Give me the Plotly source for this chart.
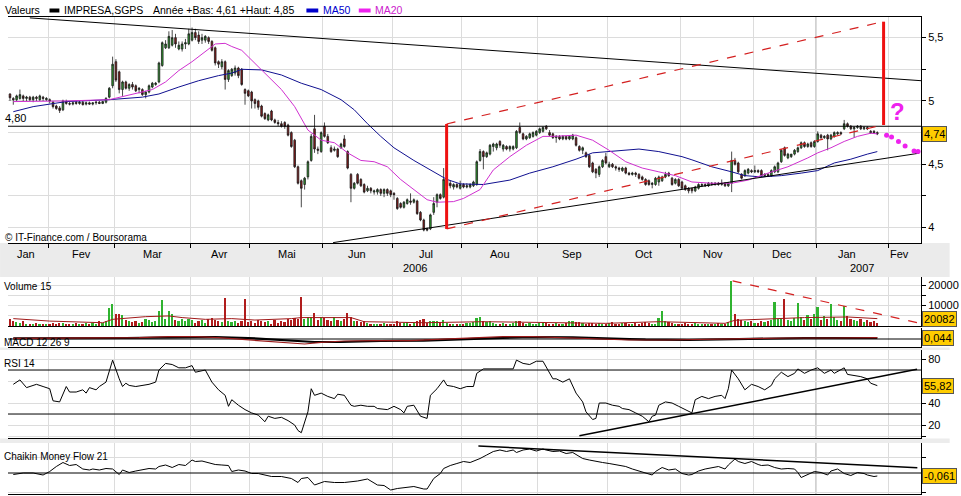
import plotly.graph_objects as go

# ---------------- DATA ----------------
opens = [
 5.055,5.02,5.01,5.02,5.04,5.02,5.03,5.01,5.03,5.01,
 5.03,5.01,5.01,4.99,4.96,4.945,4.93,4.995,4.98,4.975,
 4.99,4.98,4.99,4.975,4.985,4.975,4.985,4.99,4.98,4.99,
 5.03,5.12,5.31,5.23,5.09,5.15,5.10,5.13,5.12,5.09,
 5.09,5.05,5.07,5.11,5.13,5.15,5.28,5.42,5.42,5.44,
 5.50,5.41,5.41,5.45,5.45,5.48,5.54,5.52,5.48,5.48,
 5.50,5.47,5.42,5.31,5.27,5.31,5.17,5.20,5.22,5.26,
 5.25,5.09,5.08,5.07,5.01,5.00,4.96,4.90,4.85,4.92,
 4.85,4.83,4.82,4.83,4.81,4.75,4.69,4.48,4.37,4.34,
 4.40,4.53,4.78,4.62,4.60,4.80,4.72,4.63,4.61,4.62,
 4.63,4.70,4.60,4.42,4.31,4.42,4.38,4.34,4.29,4.31,
 4.28,4.28,4.30,4.27,4.30,4.29,4.27,4.23,4.19,4.16,
 4.19,4.21,4.20,4.21,4.12,4.06,3.99,3.99,4.12,4.20,
 4.26,4.24,4.33,4.35,4.32,4.34,4.31,4.34,4.32,4.32,
 4.33,4.34,4.53,4.60,4.56,4.58,4.64,4.63,4.68,4.62,
 4.64,4.62,4.62,4.63,4.79,4.74,4.70,4.71,4.72,4.73,
 4.75,4.76,4.80,4.75,4.74,4.71,4.72,4.70,4.72,4.70,
 4.70,4.71,4.64,4.61,4.59,4.57,4.51,4.46,4.42,4.48,
 4.56,4.48,4.50,4.48,4.47,4.45,4.47,4.43,4.42,4.43,
 4.42,4.40,4.38,4.37,4.34,4.34,4.36,4.37,4.40,4.43,
 4.39,4.35,4.38,4.36,4.33,4.31,4.31,4.29,4.31,4.33,
 4.34,4.33,4.35,4.34,4.35,4.34,4.35,4.33,4.35,4.53,
 4.51,4.42,4.41,4.43,4.45,4.44,4.45,4.45,4.41,4.42,
 4.41,4.44,4.44,4.52,4.63,4.55,4.56,4.58,4.60,4.63,
 4.67,4.64,4.67,4.64,4.68,4.73,4.71,4.73,4.70,4.72,
 4.74,4.75,4.78,4.82,4.80,4.78,4.79,4.80,4.78,4.79,
 4.76,4.76,4.75]
highs = [
 5.06,5.03,5.05,5.09,5.05,5.04,5.04,5.04,5.04,5.05,
 5.04,5.03,5.02,5.00,4.97,4.96,5.01,5.01,4.995,4.995,
 5.00,5.00,5.00,4.995,4.995,4.99,5.00,5.00,5.00,5.03,
 5.11,5.35,5.33,5.24,5.16,5.16,5.14,5.15,5.13,5.11,
 5.10,5.08,5.13,5.15,5.15,5.31,5.47,5.48,5.55,5.56,
 5.53,5.47,5.47,5.49,5.57,5.58,5.57,5.55,5.53,5.52,
 5.51,5.48,5.43,5.32,5.33,5.32,5.25,5.26,5.28,5.27,
 5.26,5.10,5.09,5.08,5.02,5.01,4.97,4.91,4.90,4.93,
 4.86,4.85,4.84,4.84,4.82,4.76,4.70,4.49,4.38,4.40,
 4.53,4.74,4.89,4.64,4.76,4.83,4.74,4.65,4.64,4.63,
 4.67,4.73,4.61,4.43,4.36,4.43,4.39,4.35,4.33,4.32,
 4.30,4.31,4.31,4.31,4.31,4.30,4.28,4.24,4.20,4.21,
 4.23,4.27,4.23,4.22,4.13,4.07,4.00,4.11,4.24,4.27,
 4.27,4.47,4.38,4.37,4.35,4.35,4.37,4.35,4.35,4.35,
 4.37,4.53,4.62,4.61,4.60,4.66,4.67,4.67,4.69,4.66,
 4.65,4.65,4.65,4.77,4.83,4.75,4.73,4.75,4.76,4.77,
 4.79,4.80,4.81,4.77,4.75,4.73,4.73,4.73,4.72,4.73,
 4.74,4.72,4.65,4.64,4.60,4.58,4.52,4.47,4.49,4.54,
 4.59,4.52,4.51,4.49,4.48,4.48,4.48,4.44,4.44,4.44,
 4.43,4.41,4.39,4.38,4.36,4.40,4.41,4.41,4.44,4.44,
 4.40,4.39,4.39,4.37,4.34,4.32,4.31,4.33,4.35,4.35,
 4.35,4.36,4.36,4.36,4.36,4.38,4.36,4.36,4.60,4.55,
 4.52,4.43,4.46,4.47,4.46,4.49,4.46,4.46,4.43,4.43,
 4.46,4.49,4.52,4.62,4.64,4.59,4.58,4.62,4.64,4.68,
 4.68,4.67,4.68,4.69,4.76,4.74,4.73,4.74,4.74,4.76,
 4.76,4.76,4.85,4.83,4.81,4.80,4.81,4.81,4.80,4.80,
 4.77,4.77,4.76]
lows = [
 5.00,4.97,5.00,5.01,5.00,5.00,5.00,4.99,5.00,5.00,
 5.00,5.00,4.98,4.94,4.93,4.905,4.92,4.97,4.965,4.965,
 4.97,4.97,4.965,4.965,4.97,4.965,4.97,4.975,4.975,4.98,
 5.02,5.10,5.15,5.06,5.04,5.09,5.08,5.09,5.07,5.06,
 5.04,5.02,5.06,5.10,5.12,5.14,5.27,5.41,5.41,5.43,
 5.42,5.40,5.39,5.41,5.44,5.47,5.48,5.45,5.45,5.46,
 5.45,5.39,5.28,5.26,5.25,5.09,5.15,5.19,5.20,5.18,
 5.12,4.97,5.03,4.94,4.94,4.93,4.87,4.85,4.84,4.84,
 4.82,4.80,4.79,4.78,4.72,4.63,4.47,4.34,4.16,4.30,
 4.38,4.52,4.59,4.58,4.59,4.71,4.66,4.59,4.60,4.55,
 4.62,4.63,4.46,4.20,4.30,4.34,4.32,4.27,4.28,4.27,
 4.26,4.26,4.25,4.24,4.25,4.24,4.22,4.14,4.15,4.15,
 4.18,4.18,4.19,4.10,4.05,3.97,3.97,3.98,4.10,4.16,
 4.22,4.23,4.23,4.31,4.30,4.31,4.30,4.31,4.31,4.31,
 4.32,4.33,4.52,4.46,4.55,4.57,4.60,4.61,4.63,4.60,
 4.61,4.60,4.61,4.62,4.74,4.69,4.69,4.70,4.71,4.72,
 4.74,4.75,4.77,4.72,4.70,4.67,4.69,4.69,4.69,4.69,
 4.69,4.64,4.60,4.58,4.55,4.47,4.43,4.39,4.40,4.47,
 4.50,4.47,4.47,4.45,4.44,4.44,4.42,4.41,4.41,4.40,
 4.38,4.37,4.33,4.33,4.31,4.33,4.33,4.36,4.39,4.40,
 4.33,4.34,4.32,4.30,4.29,4.27,4.27,4.28,4.30,4.32,
 4.32,4.32,4.33,4.33,4.33,4.33,4.32,4.32,4.28,4.49,
 4.43,4.38,4.40,4.42,4.43,4.43,4.43,4.40,4.40,4.40,
 4.40,4.43,4.43,4.51,4.56,4.54,4.55,4.57,4.59,4.62,
 4.63,4.63,4.63,4.63,4.67,4.70,4.70,4.61,4.69,4.71,
 4.73,4.73,4.77,4.79,4.77,4.71,4.78,4.77,4.77,4.77,
 4.74,4.74,4.73]
closes = [
 5.025,5.01,5.04,5.05,5.02,5.03,5.01,5.03,5.02,5.04,
 5.02,5.02,5.00,4.955,4.94,4.925,5.00,4.98,4.975,4.985,
 4.98,4.99,4.97,4.985,4.975,4.985,4.99,4.98,4.995,5.02,
 5.10,5.29,5.165,5.09,5.15,5.10,5.13,5.11,5.08,5.10,
 5.05,5.07,5.12,5.14,5.14,5.30,5.46,5.45,5.51,5.50,
 5.45,5.44,5.45,5.46,5.53,5.54,5.50,5.47,5.50,5.51,
 5.47,5.40,5.30,5.29,5.31,5.17,5.24,5.25,5.26,5.20,
 5.13,5.06,5.04,5.00,4.98,4.95,4.88,4.86,4.89,4.85,
 4.83,4.82,4.80,4.80,4.73,4.64,4.48,4.35,4.31,4.39,
 4.52,4.72,4.62,4.61,4.75,4.72,4.67,4.60,4.62,4.56,
 4.66,4.64,4.47,4.31,4.35,4.35,4.33,4.28,4.31,4.29,
 4.29,4.30,4.27,4.30,4.27,4.26,4.26,4.15,4.16,4.20,
 4.22,4.20,4.22,4.11,4.06,3.98,3.98,4.10,4.19,4.26,
 4.23,4.38,4.37,4.33,4.34,4.32,4.34,4.32,4.33,4.34,
 4.36,4.52,4.60,4.56,4.59,4.65,4.66,4.66,4.65,4.65,
 4.62,4.64,4.64,4.76,4.75,4.70,4.72,4.74,4.75,4.76,
 4.78,4.79,4.78,4.73,4.71,4.72,4.70,4.72,4.70,4.72,
 4.73,4.65,4.61,4.63,4.56,4.48,4.44,4.43,4.48,4.53,
 4.51,4.50,4.48,4.47,4.46,4.47,4.43,4.42,4.43,4.42,
 4.39,4.38,4.34,4.34,4.35,4.39,4.40,4.40,4.42,4.41,
 4.34,4.38,4.33,4.31,4.30,4.29,4.29,4.32,4.34,4.34,
 4.33,4.35,4.34,4.35,4.34,4.35,4.33,4.35,4.53,4.50,
 4.44,4.39,4.45,4.46,4.44,4.45,4.44,4.41,4.42,4.41,
 4.45,4.48,4.51,4.61,4.57,4.58,4.58,4.61,4.63,4.67,
 4.64,4.66,4.64,4.68,4.74,4.71,4.72,4.70,4.73,4.75,
 4.75,4.74,4.82,4.80,4.78,4.79,4.80,4.78,4.79,4.78,
 4.75,4.75,4.74]
volumes = [
 3200,2600,1800,1500,2200,1200,1000,900,1500,800,
 1200,1000,700,1600,1100,1300,1400,900,1200,1100,
 1500,800,1000,1300,1200,1500,1100,2400,1300,2200,
 8900,10900,6000,6000,5500,3000,2500,1800,2600,1500,
 2000,3500,2800,1900,2200,7300,12500,3500,7300,5700,
 3000,2500,3500,2500,3200,2800,1600,2200,2800,1500,
 3500,4000,3000,2600,2000,13500,2500,1800,2600,1500,
 2200,13000,2000,2500,1500,2800,2200,1800,2500,1200,
 3000,1500,2200,2000,3500,2800,4000,3200,14100,3500,
 4200,4500,6500,3000,4400,4000,3000,2600,4400,3000,
 2500,3500,6200,4500,2500,2200,2000,2600,1500,1200,
 900,1100,800,1300,1000,1200,900,2200,1500,1300,
 1800,1000,1600,2500,2800,3200,1500,2600,2500,2200,
 1800,3000,1600,1200,900,1100,800,1000,1300,1500,
 2000,4000,4200,2500,1800,2500,1500,1200,1000,1400,
 900,1100,1300,2600,2200,1500,1200,1600,1100,900,
 1300,1800,1500,1200,1000,1400,900,1100,1700,2200,
 2400,1800,2000,1500,1200,1600,1300,1000,1400,1100,
 900,1600,1800,1200,1000,1500,1300,900,1100,1400,
 1200,1600,1800,1300,1000,1200,4000,7300,2500,1800,
 1500,1200,900,1100,1400,800,1000,1300,1200,900,
 1100,800,1000,1200,1300,900,1000,2000,22000,5700,
 3500,2800,2200,1800,2500,1600,1400,2500,1800,2600,
 3000,11900,3500,4000,13000,3000,2500,4000,11400,4500,
 3000,5500,3500,6000,9400,3000,5000,3500,10600,4500,
 3000,2500,9900,5000,3500,3000,2500,3200,2000,2800,
 1800,2200,1500]

ma20_idx = [1,7,17,30,37,43,47,51,55,59,62,65,67,70,76,82,86,90,94,98,
            102,106,110,114,118,122,126,129,134,137,142,146,151,156,161,164,171,176,181,186,
            191,196,201,206,212,218,223,229,235,241,244,248,252,256,260,262]
ma20_val = [4.995,4.995,5.0,5.01,5.05,5.09,5.15,5.24,5.31,5.39,5.45,5.455,5.43,5.40,5.245,5.09,4.955,4.77,4.69,4.67,
            4.59,4.53,4.52,4.48,4.38,4.30,4.22,4.20,4.205,4.23,4.30,4.455,4.56,4.65,4.72,4.72,4.73,4.69,4.61,4.52,
            4.47,4.44,4.41,4.36,4.35,4.35,4.375,4.43,4.48,4.55,4.59,4.63,4.68,4.72,4.745,4.74]
ma50_idx = [1,7,17,30,40,45,51,57,63,67,70,76,82,88,94,100,104,108,112,116,
            122,128,132,136,143,151,157,164,171,176,183,190,196,203,206,212,218,222,227,233,
            239,244,249,254,259,262]
ma50_val = [4.915,4.955,4.995,5.01,5.03,5.055,5.11,5.16,5.20,5.22,5.25,5.245,5.205,5.14,5.09,5.01,4.93,4.82,4.72,4.63,
            4.53,4.44,4.38,4.345,4.34,4.375,4.43,4.48,4.54,4.59,4.605,4.62,4.60,4.56,4.535,4.48,4.44,4.41,4.40,4.41,
            4.43,4.45,4.51,4.54,4.58,4.60]

vma_idx = [1,12,28,31,41,48,52,59,67,74,85,88,94,103,107,125,143,162,180,196,207,216,219,233,240,253,262]
vma_val = [3600,2400,1600,3250,4550,4900,4100,3250,3600,2900,3600,4100,4100,4100,2100,1600,2100,1600,1300,2100,
           1600,1300,2800,3600,4100,4400,3600]

macd_idx = [1,15,28,39,48,56,63,70,77,85,89,94,101,110,121,129,140,149,158,167,176,187,198,213,220,235,249,262]
macd_val = [0.02,0.02,0.03,0.04,0.07,0.07,0.04,-0.01,-0.05,-0.11,-0.15,-0.10,-0.06,-0.05,-0.05,-0.01,0.04,0.07,0.07,0.04,
            -0.01,-0.03,-0.03,-0.01,0.02,0.03,0.03,0.044]
sig_idx = [1,20,35,50,62,72,82,92,100,112,125,135,145,157,170,180,192,205,218,228,240,262]
sig_val = [0.02,0.02,0.03,0.05,0.06,0.03,-0.03,-0.09,-0.09,-0.06,-0.05,-0.02,0.03,0.06,0.05,0.01,-0.02,-0.03,-0.01,0.01,0.03,0.03]

rsi_idx = [1,3,5,8,10,12,13,15,17,18,20,22,23,24,26,27,29,30,31,33,34,35,36,38,40,42,44,45,47,49,
           51,53,55,56,59,61,63,65,66,67,69,71,73,75,77,78,80,82,84,86,87,88,90,91,92,94,96,98,99,101,
           103,104,106,108,110,111,114,116,118,119,120,122,124,126,127,129,131,132,134,136,138,140,141,143,145,147,150,152,153,155,
           157,159,161,162,164,165,167,169,171,173,174,176,177,178,180,182,184,185,187,189,191,193,194,195,196,198,200,202,204,206,
           207,209,211,213,215,216,217,218,220,222,224,226,228,230,231,233,235,237,238,240,242,244,246,248,249,252,253,255,257,259,
           260,262]
rsi_val = [57,61,54,57,55,53,42,41,55,50,50,52,49,54,52,55,59,70,79,62,55,58,56,55,56,57,59,70,76,75,
           72,72,74,68,70,59,52,47,37,43,38,34,31,29,23,28,26,27,24,20,15,13,32,53,47,49,46,44,48,47,
           38,37,38,37,37,35,34,37,34,31,37,38,28,26,47,53,61,56,55,53,55,55,67,71,71,71,71,71,79,76,
           75,78,78,73,62,62,59,62,49,41,32,25,26,40,40,38,37,35,34,31,28,23,28,29,38,41,40,37,34,31,
           43,46,44,46,47,44,53,70,62,52,57,55,52,56,62,68,64,67,71,67,70,72,67,70,67,72,66,65,64,62,
           58,55.82]

cmf_idx = [1,4,7,10,12,14,16,18,20,22,24,25,27,29,31,33,34,36,38,40,42,44,45,47,49,51,53,55,56,58,
           60,62,64,66,67,69,71,73,75,77,79,82,85,87,88,90,92,95,98,101,105,108,110,111,113,115,117,120,122,125,
           126,128,130,131,133,135,137,139,141,142,144,146,148,150,152,153,155,157,159,161,162,164,166,168,170,172,173,175,177,179,
           181,183,184,186,188,190,192,194,195,197,199,201,203,205,206,208,210,212,214,216,217,219,220,222,224,226,227,229,231,233,
           235,237,238,239,241,243,245,247,248,250,252,254,256,258,259,261,262]
cmf_val = [-0.03,0,0,-0.04,0.03,0.13,0.21,0.15,0.17,0.08,0.06,0.08,0.06,0.09,0.08,-0.03,0.06,0.01,0.04,0.06,
           0.09,0.08,0.13,0.16,0.11,0.17,0.15,0.26,0.23,0.24,0.21,0.17,0.16,0.15,0.03,0.06,0.04,-0.01,-0.01,-0.04,
           -0.07,-0.07,-0.11,-0.19,-0.11,-0.09,-0.24,-0.17,-0.19,-0.19,-0.16,-0.12,-0.21,-0.24,-0.25,-0.34,-0.31,-0.29,-0.27,-0.32,
           -0.32,-0.11,-0.01,0.09,0.15,0.19,0.23,0.21,0.26,0.29,0.36,0.43,0.46,0.43,0.46,0.41,0.46,0.48,0.44,0.48,
           0.46,0.43,0.44,0.39,0.41,0.33,0.29,0.26,0.23,0.21,0.19,0.17,0.15,0.13,0.08,0.04,-0.01,-0.04,0.03,0.11,
           0.06,0.08,-0.01,-0.04,-0.03,0.04,0.08,0.11,0.13,0.08,0.16,0.28,0.23,0.19,0.23,0.17,0.15,0.16,0.11,0.08,
           0.09,0.08,0.01,-0.09,-0.03,0.03,0.01,-0.04,0.04,0.08,-0.01,-0.05,0.01,-0.01,-0.04,-0.07,-0.06]

# drawn trend lines (index, value)
resist_x, resist_y = [6, 275.2], [5.656, 5.16]
support_x, support_y = [97.6, 274.6], [3.881, 4.587]
chan_up_x, chan_up_y = [131.9, 263.6], [4.818, 5.626]
chan_dn_x, chan_dn_y = [131.9, 263.6], [3.989, 4.81]
bar1_x, bar1_y = [131.9, 131.9], [3.989, 4.818]
bar2_x, bar2_y = [263.9, 263.9], [4.81, 5.626]
level_480 = 4.80
proj_x = [264.8, 266.3, 268.4, 270.4, 273.1, 274.3]
proj_y = [4.73, 4.716, 4.68, 4.645, 4.605, 4.60]
vol_trend_x, vol_trend_y = [218.3, 274.1], [22000, 1600]
rsi_trend_x, rsi_trend_y = [172, 274], [10.3, 70.6]
cmf_trend_x, cmf_trend_y = [141.5, 274.1], [0.54, 0.107]

month_bounds = [11.5, 31.5, 54.5, 72.5, 94.5, 115.5, 136.5, 159.5, 180.5, 202.5, 224.5, 243.5, 265.5]
month_labels = ["Jan", "Fev", "Mar", "Avr", "Mai", "Jun", "Jul", "Aou", "Sep", "Oct", "Nov", "Dec", "Jan", "Fev"]
month_centers = [4.8, 21.5, 43, 63.3, 83.6, 104.8, 125.7, 148.1, 169.9, 191.3, 212.5, 233.1, 252.8, 268.7]
year_labels = ["2006", "2007"]
year_centers = [122.4, 257.3]
year_sep = 243.5

# ---------------- LAYOUT HELPERS ----------------
W, H = 961, 496
L, R, T, B = 8, 29, 17, 2
PW, PH = W - L - R, H - T - B
def px(x): return (x - L) / PW
def py(y): return (H - B - y) / PH

FONT = "Liberation Sans, Arial, sans-serif"
GRID = "#dcdcdc"
idx = list(range(len(closes)))
vcolors = ["#2fb32f" if c >= o else "#b01c1c" for o, c in zip(opens, closes)]

fig = go.Figure()
fig.add_trace(go.Candlestick(
    x=idx, open=opens, high=highs, low=lows, close=closes,
    increasing=dict(fillcolor="#2f9e2f", line=dict(color="#1a1a1a", width=0.8)),
    decreasing=dict(fillcolor="#8b1a1a", line=dict(color="#1a1a1a", width=0.8)),
    whiskerwidth=0, xaxis="x", yaxis="y", hoverinfo="skip"))

def line(x, y, color, width=1, dash=None, xa="x", ya="y", mode="lines", marker=None):
    fig.add_trace(go.Scatter(x=x, y=y, mode=mode, xaxis=xa, yaxis=ya,
                             line=dict(color=color, width=width, dash=dash),
                             marker=marker, hoverinfo="skip", cliponaxis=True))

line(ma50_idx, ma50_val, "#101090", 1)
line(ma20_idx, ma20_val, "#d030d0", 1)
line(resist_x, resist_y, "#000000", 1)
line(support_x, support_y, "#000000", 1)
line([-0.6, 275.2], [level_480, level_480], "#000000", 1)
line(chan_up_x, chan_up_y, "#d42020", 1.2, "dash")
line(chan_dn_x, chan_dn_y, "#d42020", 1.2, "dash")
line(bar1_x, bar1_y, "#ee1111", 3)
line(bar2_x, bar2_y, "#ee1111", 3)
fig.add_trace(go.Scatter(x=proj_x, y=proj_y, mode="markers", xaxis="x", yaxis="y",
                         marker=dict(color="#ee22ee", size=5), hoverinfo="skip", cliponaxis=False))

# volume
fig.add_trace(go.Bar(x=idx, y=volumes, marker=dict(color=vcolors, line=dict(width=0)),
                     width=0.5, xaxis="x2", yaxis="y2", hoverinfo="skip"))
line(vma_idx, vma_val, "#a01818", 1, xa="x2", ya="y2")
line(vol_trend_x, vol_trend_y, "#d42020", 1.2, "dash", xa="x2", ya="y2")

# MACD
line([-0.6, 275.2], [0, 0], "#000000", 1, xa="x3", ya="y3")
line(sig_idx, sig_val, "#000000", 2.2, xa="x3", ya="y3")
line(macd_idx, macd_val, "#9a1a1a", 1.2, xa="x3", ya="y3")

# RSI
line([-0.6, 275.2], [70, 70], "#000000", 1, xa="x4", ya="y4")
line([-0.6, 275.2], [30, 30], "#000000", 1, xa="x4", ya="y4")
line(rsi_idx, rsi_val, "#000000", 1, xa="x4", ya="y4")
line(rsi_trend_x, rsi_trend_y, "#000000", 1.5, xa="x4", ya="y4")

# CMF
line([-0.6, 275.2], [0, 0], "#000000", 1, xa="x5", ya="y5")
line(cmf_idx, cmf_val, "#000000", 1, xa="x5", ya="y5")
line(cmf_trend_x, cmf_trend_y, "#000000", 1.5, xa="x5", ya="y5")

xcommon = dict(range=[-0.6, 275.2], tickvals=month_bounds, showticklabels=False,
               showgrid=True, gridcolor=GRID, gridwidth=1, zeroline=False,
               showline=True, linecolor="#000000", linewidth=1, fixedrange=True)
ycommon = dict(side="right", showline=True, linecolor="#000000", linewidth=1,
               ticks="outside", ticklen=4, tickcolor="#000000", zeroline=False,
               gridcolor=GRID, tickfont=dict(family=FONT, size=11, color="#000"), fixedrange=True)

fig.update_layout(
    width=W, height=H, margin=dict(l=L, r=R, t=T, b=B),
    paper_bgcolor="#ffffff", plot_bgcolor="#ffffff", showlegend=False,
    font=dict(family=FONT, size=10, color="#000"),
    xaxis=dict(**xcommon, anchor="y", ticks="outside", ticklen=4, tickcolor="#000", mirror=True,
               rangeslider=dict(visible=False)),
    xaxis2=dict(**xcommon, anchor="y2", matches="x"),
    xaxis3=dict(**xcommon, anchor="y3", matches="x"),
    xaxis4=dict(**xcommon, anchor="y4", matches="x"),
    xaxis5=dict(**xcommon, anchor="y5", matches="x"),
    yaxis=dict(**ycommon, domain=[py(243), 1], range=[3.878, 5.663], anchor="x",
               tickvals=[4, 4.25, 4.5, 4.75, 5, 5.25, 5.5], ticktext=["4", "", "4,5", "", "5", "", "5,5"]),
    yaxis2=dict(**ycommon, domain=[py(326), py(277)], range=[0, 23900], anchor="x2",
                tickvals=[5000, 10000, 15000, 20000], ticktext=["", "10000", "", "20000"]),
    yaxis3=dict(**ycommon, domain=[py(347), py(328)], range=[-0.24, 0.33], anchor="x3",
                tickvals=[], showgrid=False),
    yaxis4=dict(**ycommon, domain=[py(438), py(350)], range=[8.2, 88.2], anchor="x4",
                tickvals=[10, 20, 40, 60, 80], ticktext=["", "20", "40", "", "80"]),
    yaxis5=dict(**ycommon, domain=[0, py(443)], range=[-0.42, 0.6], anchor="x5",
                tickvals=[-0.38, 0.32], ticktext=["", ""]),
    bargap=0,
)

shapes = []
# gray bands
for y0, y1, col in [(243, 277, "#ebebeb"), (347.5, 350, "#ececec"), (438.5, 443, "#ececec")]:
    shapes.append(dict(type="rect", xref="paper", yref="paper", x0=px(0), x1=px(W), y0=py(y1), y1=py(y0),
                       fillcolor=col, line=dict(width=0), layer="below"))
# year separator
for ya in ["y", "y2", "y3", "y4", "y5"]:
    shapes.append(dict(type="line", xref="x", yref=ya + " domain", x0=year_sep, x1=year_sep, y0=0, y1=1,
                       line=dict(color="#9a9a9a", width=1), layer="below"))
# legend swatches
for x0, x1, col in [(50, 60, "#000000"), (310, 322, "#0000cc"), (363, 375, "#ee22ee")]:
    shapes.append(dict(type="rect", xref="paper", yref="paper", x0=px(x0), x1=px(x1), y0=py(12.5), y1=py(8.5),
                       fillcolor=col, line=dict(width=0)))
fig.update_layout(shapes=shapes)

ann = []
def text(t, x, y, color="#000", size=10, xanchor="left", **kw):
    ann.append(dict(text=t, x=px(x), y=py(y), xref="paper", yref="paper", showarrow=False,
                    xanchor=xanchor, yanchor="middle", font=dict(family=FONT, size=size, color=color), **kw))

text("Valeurs", 3, 10, size=10.5)
text("IMPRESA,SGPS", 63, 10, size=10.5)
text("Année +Bas: 4,61 +Haut: 4,85", 153, 10, size=10.5)
text("MA50", 325, 10, color="#0000cc", size=10.5)
text("MA20", 377, 10, color="#cc22cc", size=10.5)
text("4,80", 3, 118, size=11)
text("© IT-Finance.com / Boursorama", 3, 237, size=10)
text("Volume 15", 2, 286, size=10)
text("MACD 12 26 9", 2, 343, size=10)
text("RSI 14", 2, 363, size=10)
text("Chaikin Money Flow 21", 2, 456, size=10)

for lab, c in zip(month_labels, month_centers):
    ann.append(dict(text=lab, x=c, y=py(254), xref="x", yref="paper", showarrow=False,
                    font=dict(family=FONT, size=11, color="#000"), xanchor="center", yanchor="middle"))
for lab, c in zip(year_labels, year_centers):
    ann.append(dict(text=lab, x=c, y=py(268), xref="x", yref="paper", showarrow=False,
                    font=dict(family=FONT, size=11, color="#000"), xanchor="center", yanchor="middle"))

ann.append(dict(text="<b>?</b>", x=268, y=4.92, xref="x", yref="y", showarrow=False,
                font=dict(family=FONT, size=24, color="#ee22ee"), xanchor="center", yanchor="middle"))

def box(t, yref, yval):
    ann.append(dict(text=t, x=px(933), y=yval, xref="paper", yref=yref, showarrow=False,
                    xanchor="left", yanchor="middle", bgcolor="#ffcc00", bordercolor="#555555",
                    borderwidth=1, borderpad=1, font=dict(family=FONT, size=11, color="#000")))
box("4,74", "y", 4.74)
box("20082", "y2", 3400)
box("0,044", "y3", 0.03)
box("55,82", "y4", 55.82)
box("-0,061", "y5", -0.06)
fig.update_layout(annotations=ann)

fig.write_html("out.html", config={"displayModeBar": False},
               post_script="document.body.style.margin='0';document.body.style.overflow='hidden';")
